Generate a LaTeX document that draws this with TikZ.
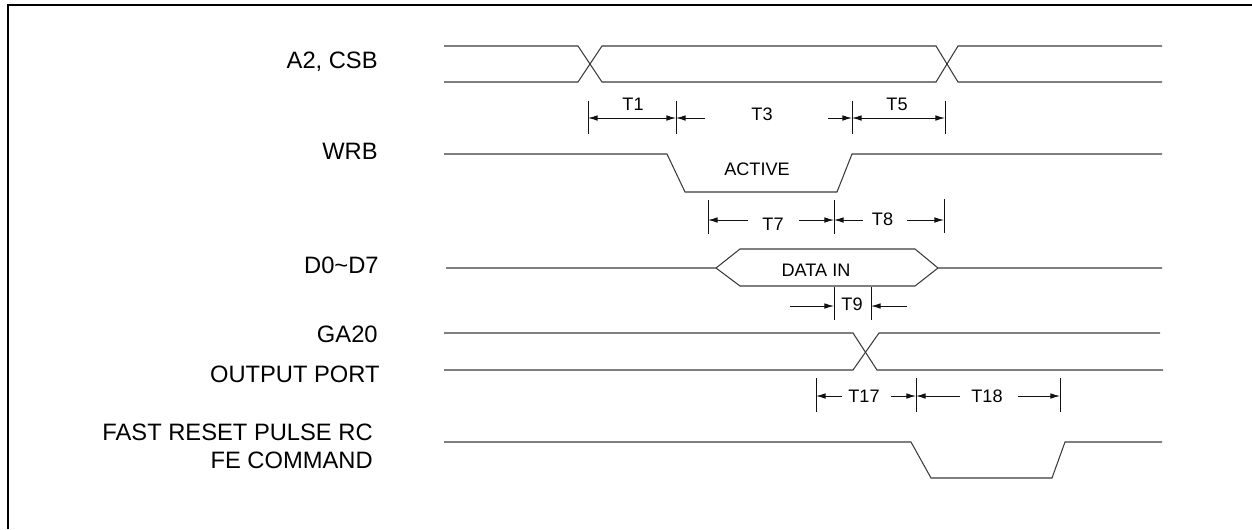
\documentclass[tikz,border=0pt]{standalone}
\usepackage{fontspec}
\setmainfont{Liberation Sans}
\usepackage{xcolor}
\usepackage{tikz}
\usetikzlibrary{arrows.meta}
\definecolor{WaveGray}{HTML}{3A3A3A}
\definecolor{DimBlack}{HTML}{111111}

\tikzset{
  >={Latex[length=5.5pt,width=3.2pt]},
  sig/.style={WaveGray, line width=0.6pt},
  dimtick/.style={DimBlack, line width=0.5pt},
  dimarr/.style={DimBlack, line width=0.5pt, ->},
  dimboth/.style={DimBlack, line width=0.5pt, <->},
  siglab/.style={anchor=base east, inner sep=0pt, font=\fontsize{13.5}{16}\selectfont},
  tlab/.style={anchor=base, inner sep=0pt, font=\fontsize{10.3}{12}\selectfont},
}

\begin{document}
\begin{tikzpicture}[x=0.02cm, y=-0.02cm]
  \useasboundingbox (0,0) rectangle (1252,529);
  \draw[line width=1.15pt] (8,529) -- (8,5) -- (1252,5);
  % signal names
  \node[siglab] (a2csb) at (378,68) {A2, CSB};
  \node[siglab] (wrb) at (378,159) {WRB};
  \node[siglab] (dbus) at (379,273) {D0\textasciitilde D7};
  \node[siglab] (ga20) at (378,342) {GA20};
  \node[siglab] (outport) at (380,382) {OUTPUT PORT};
  \node[siglab] (reset) at (373,440) {FAST RESET PULSE RC};
  \node[siglab] (fecmd) at (373,468) {FE COMMAND};
  % A2, CSB
  \draw[sig] (444,46) -- (578,46) -- (602,82) -- (936,82) -- (958,46) -- (1162,46);
  \draw[sig] (444,82) -- (578,82) -- (602,46) -- (936,46) -- (958,82) -- (1162,82);
  % WRB
  \draw[sig] (444,154) -- (667,154) -- (685,192) -- (837,192) -- (852,154) -- (1162,154);
  \node[tlab] (active) at (757,175) {ACTIVE};
  % D0~D7
  \draw[sig] (446,268) -- (716,268) -- (740,249) -- (915,249) -- (938,268) -- (1162,268);
  \draw[sig] (716,268) -- (740,286) -- (915,286) -- (938,268);
  \node[tlab] (datain) at (816,276.5) {DATA IN};
  % GA20 / output port
  \draw[sig] (444,333) -- (853,333) -- (877,370) -- (1163,370);
  \draw[sig] (444,370) -- (853,370) -- (879,333) -- (1160,333);
  % fast reset pulse
  \draw[sig] (444,442) -- (911,442) -- (931,478) -- (1052,478) -- (1065,442) -- (1162,442);

  % timing marks
  \foreach \x/\ya/\yb in {588/101/134,676/101/134,852/101/134,945/101/134,
     708/200/234,834/200/234,944/199/233,834/287/320,871/287/320,
     816/378/412,916/378/412,1060/378/412}
     \draw[dimtick] (\x,\ya) -- (\x,\yb);
  \foreach \n/\x in {t1l/588,t1r/676,t3a/705,t3b/828,t5l/852,t5r/945}
     \coordinate (\n) at (\x,118);
  \foreach \n/\x in {t7l/708,t7a/748,t7b/799,t7r/834,t8a/863,t8b/907,t8r/944}
     \coordinate (\n) at (\x,220);
  \foreach \n/\x in {t9a/790,t9l/834,t9r/871,t9b/907}
     \coordinate (\n) at (\x,306);
  \foreach \n/\x in {t17l/816,t17a/842,t17b/891,t17r/916,t18a/960,t18b/1018,t18r/1060}
     \coordinate (\n) at (\x,396);

  \draw[dimboth] (t1l) -- (t1r);
  \draw[dimarr] (t3a) -- (t1r);
  \draw[dimarr] (t3b) -- (t5l);
  \draw[dimboth] (t5l) -- (t5r);
  \draw[dimarr] (t7a) -- (t7l);
  \draw[dimarr] (t7b) -- (t7r);
  \draw[dimarr] (t8a) -- (t7r);
  \draw[dimarr] (t8b) -- (t8r);
  \draw[dimarr] (t9a) -- (t9l);
  \draw[dimarr] (t9b) -- (t9r);
  \draw[dimarr] (t17a) -- (t17l);
  \draw[dimarr] (t17b) -- (t17r);
  \draw[dimarr] (t18a) -- (t17r);
  \draw[dimarr] (t18b) -- (t18r);

  \node[tlab] (lt1) at (633,110) {T1};
  \node[tlab] (lt3) at (762,120.5) {T3};
  \node[tlab] (lt5) at (897,110) {T5};
  \node[tlab] (lt7) at (773,230.5) {T7};
  \node[tlab] (lt8) at (882.5,225) {T8};
  \node[tlab] (lt9) at (852,310.5) {T9};
  \node[tlab] (lt17) at (864,402) {T17};
  \node[tlab] (lt18) at (987,402) {T18};
\end{tikzpicture}
\end{document}
